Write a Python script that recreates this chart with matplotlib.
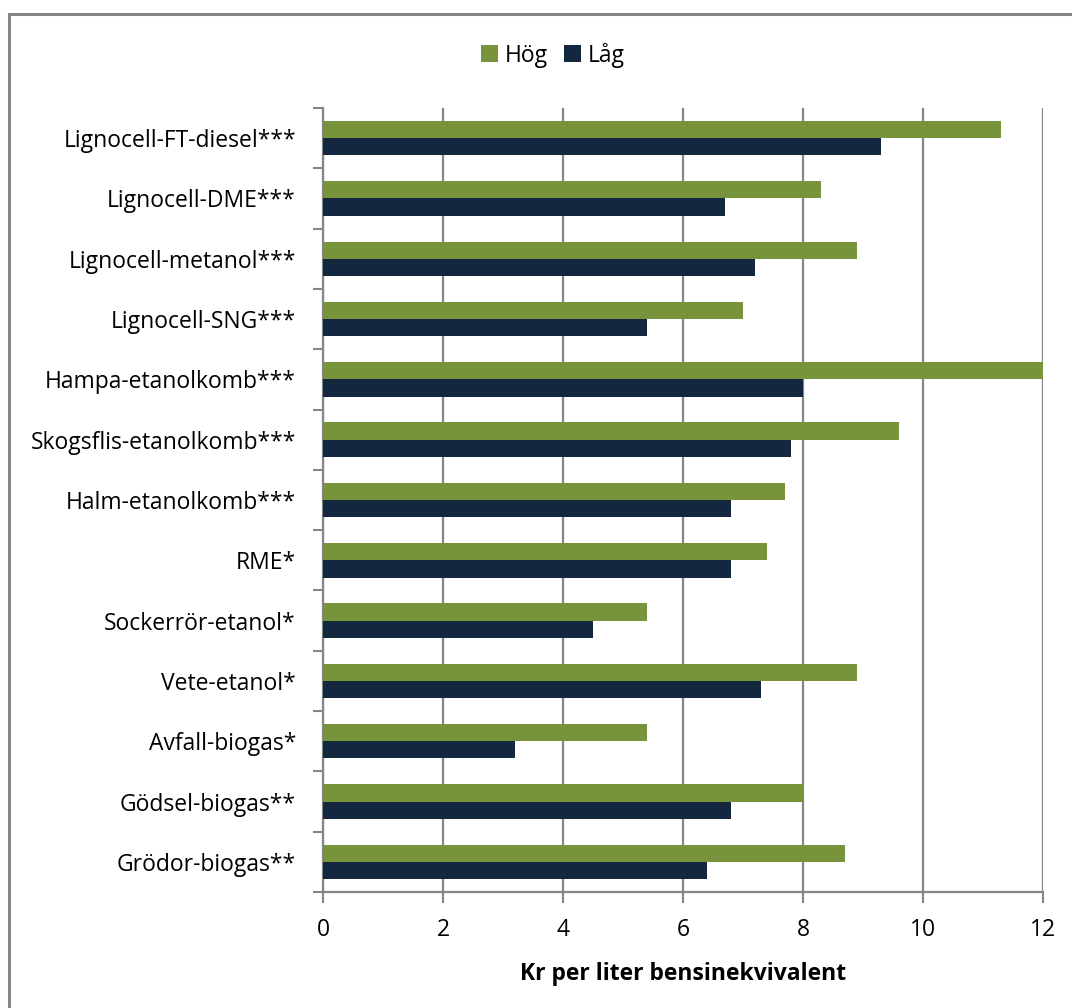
import numpy as np
from matplotlib import pyplot as plt
from matplotlib.patches import Rectangle

# kategorier (uppifran och ned)
kategorier = ["Lignocell-FT-diesel***", "Lignocell-DME***", "Lignocell-metanol***",
              "Lignocell-SNG***", "Hampa-etanolkomb***", "Skogsflis-etanolkomb***",
              "Halm-etanolkomb***", "RME*", "Sockerrör-etanol*", "Vete-etanol*",
              "Avfall-biogas*", "Gödsel-biogas**", "Grödor-biogas**"]
hog = [11.3, 8.3, 8.9, 7.0, 12.0, 9.6, 7.7, 7.4, 5.4, 8.9, 5.4, 8.0, 8.7]
lag = [9.3, 6.7, 7.2, 5.4, 8.0, 7.8, 6.8, 6.8, 4.5, 7.3, 3.2, 6.8, 6.4]
xticks = [0, 2, 4, 6, 8, 10, 12]

plt.rcParams['font.family'] = ['Open Sans', 'DejaVu Sans']

gron = '#77933C'
bla = '#13273F'
gra = '#868686'
fs = 16.5

fig = plt.figure(figsize=(10.72, 10.08), dpi=100)
ax = fig.add_axes([323/1072, 1-892/1008, (1043-323)/1072, (892-108)/1008])

# ram runt hela figuren
fig.patches.append(Rectangle((9/1072, -0.1), 1.2, 1-14/1008+0.1, transform=fig.transFigure,
                             fill=False, edgecolor=gra, linewidth=2.2))

n = len(kategorier)
y = np.arange(n)
h = 0.286
ax.barh(y - h/2, hog, height=h, color=gron, label='Hög', zorder=3)
ax.barh(y + h/2, lag, height=h, color=bla, label='Låg', zorder=3)

ax.set_ylim(n - 0.5, -0.5)
ax.set_xlim(0, 12)
ax.set_yticks(y)
ax.set_yticklabels(kategorier, fontsize=fs)
ax.set_yticks(np.arange(n + 1) - 0.5, minor=True)
ax.tick_params(axis='y', which='major', length=0, pad=19.5)
ax.tick_params(axis='y', which='minor', length=7, width=1.5, color=gra)
ax.set_xticks(xticks)
ax.set_xticklabels([str(t) for t in xticks], fontsize=fs)
ax.tick_params(axis='x', length=8, width=1.5, color=gra, pad=11)

ax.grid(axis='x', color=gra, linewidth=1.6, zorder=0)
for s in ['top', 'right']:
    ax.spines[s].set_visible(False)
for s in ['left', 'bottom']:
    ax.spines[s].set_color(gra)
    ax.spines[s].set_linewidth(1.6)

ax.set_xlabel("Kr per liter bensinekvivalent", fontsize=fs, fontweight='bold', labelpad=14)

fig.legend(loc='center', bbox_to_anchor=(553/1072, 1-55/1008), ncol=2, frameon=False,
           fontsize=fs, handlelength=0.75, handleheight=0.75, handletextpad=0.3, columnspacing=0.7)

plt.savefig('out.png', dpi=100)
